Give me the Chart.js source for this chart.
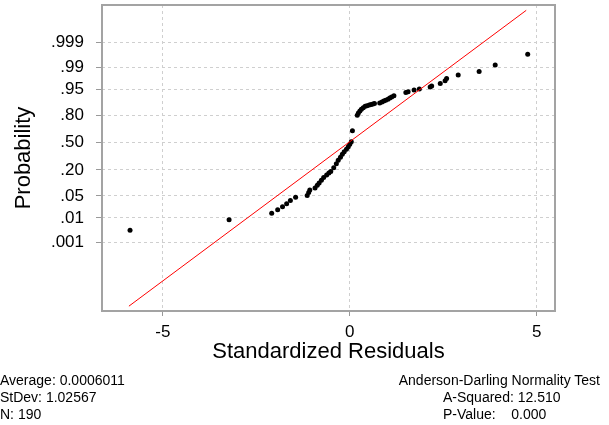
<!DOCTYPE html>
<html>
<head>
<meta charset="utf-8">
<script src="https://cdn.jsdelivr.net/npm/chart.js@4"></script>
<style>
  body { margin: 0; background: #fff; }
  #wrap { position: relative; width: 609px; height: 425px; }
  .stats { position: absolute; font: 14px "Liberation Sans", Arial, sans-serif; line-height: 17px; color: #000; white-space: pre; }
</style>
</head>
<body>
<div id="wrap">
  <canvas id="npp"></canvas>
  <div class="stats" id="statsLeft" style="left:0px; top:372px"></div>
  <div class="stats" id="statsTitle" style="right:9px; top:372px"></div>
  <div class="stats" id="statsRight" style="left:443px; top:389px"></div>
</div>
<script>
// standardized residuals (x) and their plotted probabilities (y)
var residuals = [-5.88, -3.23, -2.09, -1.93, -1.80, -1.69, -1.59, -1.45, -1.14, -1.10, -1.07,
  -0.93, -0.87, -0.82, -0.76, -0.70, -0.62, -0.56, -0.51, -0.43, -0.36, -0.31, -0.25, -0.20,
  -0.15, -0.09, -0.04, 0.00, 0.04, 0.07, 0.20, 0.23, 0.27, 0.31, 0.36, 0.41, 0.46, 0.52, 0.57,
  0.62, 0.66, 0.80, 0.86, 0.91, 0.96, 1.02, 1.07, 1.12, 1.18, 1.50, 1.56, 1.72, 1.86, 2.15,
  2.19, 2.42, 2.55, 2.59, 2.90, 3.46, 3.89, 4.76];
var probs = [0.0034, 0.0087, 0.0146, 0.0192, 0.0239, 0.0297, 0.0367, 0.0455, 0.0516, 0.0618, 0.0721,
  0.0808, 0.0934, 0.1056, 0.122, 0.140, 0.159, 0.174, 0.187, 0.218, 0.256, 0.292, 0.325, 0.359,
  0.388, 0.418, 0.448, 0.479, 0.510, 0.642, 0.800, 0.820, 0.836, 0.848, 0.860, 0.869, 0.873,
  0.877, 0.881, 0.883, 0.886, 0.889, 0.895, 0.900, 0.905, 0.910, 0.916, 0.921, 0.926, 0.939,
  0.942, 0.948, 0.951, 0.957, 0.960, 0.966, 0.972, 0.976, 0.9817, 0.9861, 0.9917, 0.9968];

// reference line end points
var lineX = [-5.91, 4.72];
var lineP = [0.00000022, 0.999978];

var xTicks = [-5, 0, 5];
var yTickProbs = [0.001, 0.01, 0.05, 0.20, 0.50, 0.80, 0.95, 0.99, 0.999];
var yTickLabels = [".001", ".01", ".05", ".20", ".50", ".80", ".95", ".99", ".999"];

var statsLeft = ["Average: 0.0006011", "StDev: 1.02567", "N: 190"];
var statsTitle = "Anderson-Darling Normality Test";
var statsRight = ["A-Squared: 12.510", "P-Value:    0.000"];

// inverse normal cdf (Acklam), used for the probability scale
function probit(p) {
  var a = [-3.969683028665376e+01, 2.209460984245205e+02, -2.759285104469687e+02, 1.383577518672690e+02, -3.066479806614716e+01, 2.506628277459239e+00];
  var b = [-5.447609879822406e+01, 1.615858368580409e+02, -1.556989798598866e+02, 6.680131188771972e+01, -1.328068155288572e+01];
  var c = [-7.784894002430293e-03, -3.223964580411365e-01, -2.400758277161838e+00, -2.549671010229528e+00, 4.374664141464968e+00, 2.938163982698783e+00];
  var d = [7.784695709041462e-03, 3.224671290700398e-01, 2.445134137142996e+00, 3.754408661907416e+00];
  var pl = 0.02425, q, r;
  if (p < pl) {
    q = Math.sqrt(-2 * Math.log(p));
    return (((((c[0]*q+c[1])*q+c[2])*q+c[3])*q+c[4])*q+c[5]) / ((((d[0]*q+d[1])*q+d[2])*q+d[3])*q+1);
  }
  if (p > 1 - pl) {
    q = Math.sqrt(-2 * Math.log(1 - p));
    return -(((((c[0]*q+c[1])*q+c[2])*q+c[3])*q+c[4])*q+c[5]) / ((((d[0]*q+d[1])*q+d[2])*q+d[3])*q+1);
  }
  q = p - 0.5; r = q * q;
  return (((((a[0]*r+a[1])*r+a[2])*r+a[3])*r+a[4])*r+a[5])*q / (((((b[0]*r+b[1])*r+b[2])*r+b[3])*r+b[4])*r+1);
}

document.getElementById("statsLeft").textContent = statsLeft.join("\n");
document.getElementById("statsTitle").textContent = statsTitle;
document.getElementById("statsRight").textContent = statsRight.join("\n");

var points = residuals.map(function (x, i) { return { x: x, y: probit(probs[i]) }; });
var fitLine = lineX.map(function (x, i) { return { x: x, y: probit(lineP[i]) }; });

var frame = {
  id: "frame",
  beforeDatasetsDraw: function (chart) {
    var a = chart.chartArea, ctx = chart.ctx;
    ctx.save();
    ctx.strokeStyle = "#a3a3a3";
    ctx.lineWidth = 2;
    ctx.strokeRect(a.left, a.top, a.right - a.left, a.bottom - a.top);
    ctx.restore();
  }
};

// no extra room for end labels, the frame is placed by the layout padding
function noPad(s) {
  s.paddingTop = 0; s.paddingBottom = 0; s.paddingLeft = 0; s.paddingRight = 0;
}

Chart.defaults.font.family = '"Liberation Sans", Arial, sans-serif';
Chart.defaults.color = "#000";

var ctx = document.getElementById("npp");
var chartGraph = new Chart(ctx, {
  type: "scatter",
  data: {
    datasets: [
      {
        type: "line",
        data: fitLine,
        borderColor: "rgb(255,0,0)",
        borderWidth: 1,
        pointRadius: 0,
        fill: false,
        order: 0
      },
      {
        data: points,
        backgroundColor: "#000",
        borderWidth: 0,
        pointRadius: 2.5,
        order: 1
      }
    ]
  },
  options: {
    responsive: true,
    maintainAspectRatio: false,
    animation: false,
    events: [],
    layout: { padding: { left: 0, top: 5, right: 54, bottom: 60 } },
    plugins: { legend: { display: false }, tooltip: { enabled: false } },
    scales: {
      x: {
        type: "linear",
        min: -6.63,
        max: 5.49,
        afterBuildTicks: function (s) { s.ticks = xTicks.map(function (v) { return { value: v }; }); },
        afterFit: function (s) { s.height = 54; noPad(s); },
        ticks: { font: { size: 17 }, padding: 6, maxRotation: 0 },
        grid: { color: "#cfcfcf", tickColor: "#999", tickLength: 5, tickBorderDash: [] },
        border: { display: false, dash: [3, 3] },
        title: { display: true, text: "Standardized Residuals", font: { size: 22 }, padding: { top: 0, bottom: 0 } }
      },
      y: {
        type: "linear",
        min: -5.20,
        max: 4.25,
        afterBuildTicks: function (s) { s.ticks = yTickProbs.map(function (p) { return { value: probit(p) }; }); },
        afterFit: function (s) { s.width = 102; noPad(s); },
        ticks: {
          font: { size: 17 },
          padding: 12,
          callback: function (v, i) { return yTickLabels[i]; }
        },
        grid: { color: "#cfcfcf", tickColor: "#999", tickLength: 6, tickBorderDash: [] },
        border: { display: false, dash: [3, 3] },
        title: { display: true, text: "Probability", font: { size: 22 }, padding: { top: 11, bottom: 0 } }
      }
    }
  },
  plugins: [frame]
});
</script>
</body>
</html>
